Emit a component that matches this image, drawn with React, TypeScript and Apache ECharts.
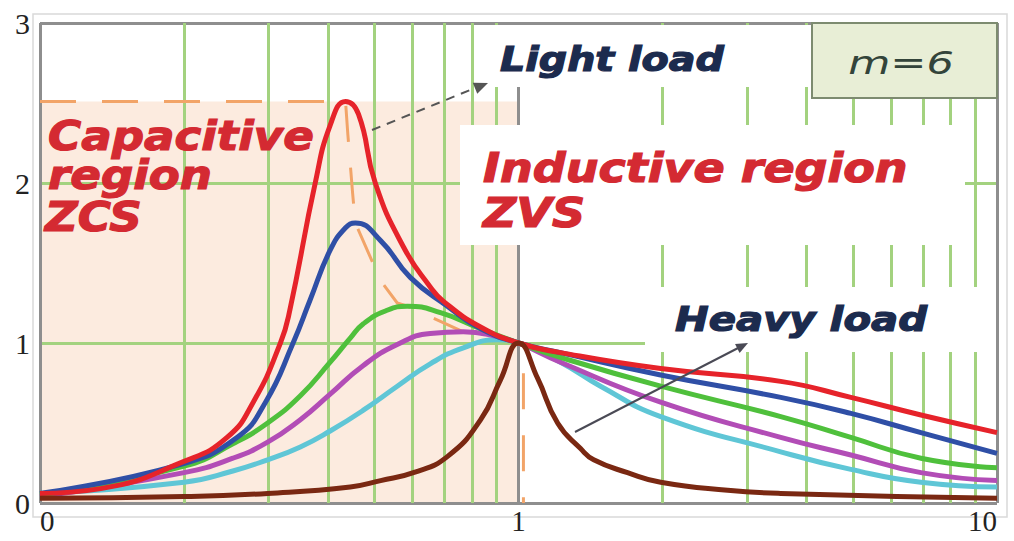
import React, { useEffect, useRef } from "react";
import * as echarts from "echarts";

// ---- data (normalised frequency fn, voltage gain M) ----
const xTickValues = [0.1, 1, 10];
const xTickLabels = ["0", "1", "10"];
const yTickLabels = ["0", "1", "2", "3"];
const xMinorGrid = [0.2, 0.3, 0.4, 0.5, 0.6, 0.7, 0.8, 0.9, 2, 3, 4, 5, 6, 7, 8, 9];

const redCurve = [[0.1,0.06],[0.134,0.09],[0.2,0.26],[0.246,0.41],[0.279,0.63],[0.318,1.0],[0.333,1.21],[0.376,2.0],[0.404,2.36],[0.435,2.51],[0.463,2.43],[0.502,2.0],[0.575,1.6],[0.654,1.35],[0.697,1.26],[0.833,1.1],[1,1.0],[1.224,0.94],[1.982,0.84],[3.532,0.76],[4.95,0.66],[6.935,0.55],[10,0.44]];
const blueCurve = [[0.1,0.06],[0.196,0.24],[0.258,0.41],[0.296,0.63],[0.338,1.0],[0.367,1.27],[0.404,1.58],[0.435,1.72],[0.456,1.75],[0.515,1.64],[0.594,1.41],[0.71,1.23],[0.833,1.09],[1,1.0],[1.224,0.94],[1.982,0.8],[3.532,0.66],[4.95,0.56],[6.935,0.44],[10,0.31]];
const greenCurve = [[0.1,0.05],[0.2,0.23],[0.253,0.37],[0.299,0.5],[0.35,0.67],[0.404,0.88],[0.445,1.03],[0.474,1.12],[0.527,1.2],[0.586,1.23],[0.687,1.19],[0.833,1.09],[1,1.0],[1.224,0.91],[1.982,0.73],[3.532,0.54],[4.95,0.41],[6.935,0.28],[10,0.22]];
const magentaCurve = [[0.1,0.04],[0.2,0.19],[0.253,0.28],[0.299,0.38],[0.35,0.52],[0.404,0.68],[0.474,0.86],[0.558,0.99],[0.654,1.06],[0.767,1.07],[0.904,1.04],[1,1.0],[1.224,0.88],[1.982,0.63],[3.532,0.41],[4.95,0.3],[6.935,0.19],[10,0.14]];
const cyanCurve = [[0.1,0.06],[0.2,0.13],[0.253,0.2],[0.299,0.27],[0.35,0.35],[0.404,0.45],[0.474,0.58],[0.558,0.73],[0.654,0.87],[0.767,0.97],[0.904,1.02],[1,1.0],[1.224,0.88],[1.484,0.73],[1.982,0.54],[3.532,0.32],[4.95,0.21],[6.935,0.13],[10,0.1]];
const brownCurve = [[0.1,0.03],[0.2,0.04],[0.299,0.06],[0.445,0.1],[0.515,0.14],[0.603,0.19],[0.71,0.29],[0.833,0.52],[0.917,0.77],[1,1.0],[1.096,0.78],[1.207,0.5],[1.348,0.34],[1.436,0.27],[1.69,0.19],[1.982,0.13],[2.736,0.08],[3.532,0.06],[10,0.03]];
const peakLocus = [[0.1,2.51],[0.435,2.51],[0.44,2.3],[0.45,1.94],[0.456,1.75],[0.515,1.39],[0.558,1.25],[0.586,1.23],[0.767,1.07],[0.904,1.02],[1.024,1.0],[1.024,0]];
const capacitiveRegion = [[0.1, 0], [1, 2.51]];

const curveSeries = [
  { name: "Q6", data: cyanCurve, color: "#5fc6d6" },
  { name: "Q5", data: magentaCurve, color: "#b24db6" },
  { name: "Q4", data: greenCurve, color: "#4fc03c" },
  { name: "Q3", data: blueCurve, color: "#2f4fa6" },
  { name: "Q2", data: redCurve, color: "#e6232a" },
  { name: "Q1", data: brownCurve, color: "#7a2812" },
];

function arrowHead(tip: number[], from: number[], len: number, half: number) {
  const dx = tip[0] - from[0], dy = tip[1] - from[1];
  const d = Math.hypot(dx, dy);
  const ux = dx / d, uy = dy / d;
  const bx = tip[0] - ux * len, by = tip[1] - uy * len;
  return [tip, [bx - uy * half, by + ux * half], [bx + uy * half, by - ux * half]];
}

export default function App() {
  const ref = useRef<HTMLDivElement>(null);
  useEffect(() => {
    if (!ref.current) return;
    const chart = echarts.init(ref.current, null, { renderer: "svg" });
    const red = "#d42a32";
    const navy = "#1c2b4e";
    const textEl = (text: string, x: number, y: number, size: number, fill: string, sx: number) => ({
      type: "text", x, y, scaleX: sx, z: 20,
      style: {
        text, fill, stroke: fill, lineWidth: 1.2, font: `italic bold ${size}px "DejaVu Sans"`,
        textAlign: "left", textVerticalAlign: "middle", align: "left", verticalAlign: "middle",
      },
    });
    const lightFrom = [372, 130], lightTip = [488, 83];
    const heavyFrom = [575, 432], heavyTip = [748, 343];
    chart.setOption({
      animation: false,
      backgroundColor: "#ffffff",
      grid: { left: 40, right: 17, top: 23, bottom: 38, containLabel: false },
      xAxis: {
        type: "log", logBase: 10, min: 0.1, max: 10,
        axisLine: { show: false }, axisTick: { show: false },
        axisLabel: {
          fontFamily: "Liberation Serif", fontSize: 29, lineHeight: 24, color: "#222", margin: 6,
          alignMinLabel: "left", alignMaxLabel: "right",
          formatter: (v: number) => {
            let best = 0;
            xTickValues.forEach((t, i) => { if (Math.abs(Math.log10(v) - Math.log10(t)) < Math.abs(Math.log10(v) - Math.log10(xTickValues[best]))) best = i; });
            return xTickLabels[best];
          },
        },
        splitLine: { show: true, lineStyle: { color: "#8e8e8e", width: 3 } },
      },
      yAxis: {
        type: "value", min: 0, max: 3, interval: 1,
        axisLine: { show: false }, axisTick: { show: false },
        axisLabel: {
          fontFamily: "Liberation Serif", fontSize: 30, color: "#222", margin: 10,
          formatter: (v: number) => yTickLabels[Math.round(v)],
        },
        splitLine: { show: true, lineStyle: { color: ["#8e8e8e", "#a3d27f", "#a3d27f", "#8e8e8e"], width: 3 } },
      },
      series: [
        {
          type: "line", name: "locus", data: peakLocus, showSymbol: false, symbol: "none", z: 1,
          lineStyle: { color: "#f2a468", width: 3, type: [36, 26] }, silent: true,
          markArea: {
            silent: true, z: -1,
            itemStyle: { color: "#fcebdf" },
            data: [[{ coord: capacitiveRegion[0] }, { coord: capacitiveRegion[1] }]],
          },
          markLine: {
            silent: true, z: 0, symbol: ["none", "none"], label: { show: false },
            lineStyle: { color: "#a3d27f", width: 3, type: "solid" },
            emphasis: { disabled: true },
            data: xMinorGrid.map((v) => ({ xAxis: v })),
          },
        },
        ...curveSeries.map((s) => ({
          type: "line", name: s.name, data: s.data, smooth: 0.5, showSymbol: false, symbol: "none",
          lineStyle: { color: s.color, width: 5 }, z: 3,
        })),
      ],
      graphic: [
        { type: "rect", z: 0, shape: { x: 33, y: 14, width: 974, height: 503 }, style: { fill: "none", stroke: "#d9d9d9", lineWidth: 1.5 } },
        { type: "rect", z: 1, shape: { x: 480, y: 25, width: 331, height: 62 }, style: { fill: "#ffffff" } },
        { type: "rect", z: 1, shape: { x: 460, y: 125, width: 505, height: 120 }, style: { fill: "#ffffff" } },
        { type: "rect", z: 1, shape: { x: 645, y: 287, width: 351, height: 65 }, style: { fill: "#ffffff" } },
        { type: "rect", z: 10, shape: { x: 812, y: 23, width: 185, height: 75 }, style: { fill: "#e8eed6", stroke: "#7d8b70", lineWidth: 2 } },
        {
          type: "text", x: 901, y: 63, z: 20, scaleX: 1.35,
          style: { text: "m=6", fill: "#33443a", font: 'italic 32px "DejaVu Sans"', textAlign: "center", textVerticalAlign: "middle", align: "center", verticalAlign: "middle" },
        },
        textEl("Capacitive", 48, 136, 40, red, 1.13),
        textEl("region", 48, 175, 40, red, 1.13),
        textEl("ZCS", 45, 217, 40, red, 1.13),
        textEl("Inductive region", 483, 168, 40, red, 1.15),
        textEl("ZVS", 483, 213, 40, red, 1.15),
        textEl("Light load", 500, 60, 33, navy, 1.2),
        textEl("Heavy load", 675, 320, 33, navy, 1.22),
        { type: "line", z: 15, shape: { x1: lightFrom[0], y1: lightFrom[1], x2: lightTip[0] - 8, y2: lightTip[1] + 3 }, style: { stroke: "#555", lineWidth: 2, lineDash: [9, 7] } },
        { type: "polygon", z: 15, shape: { points: arrowHead(lightTip, lightFrom, 14, 6) }, style: { fill: "#555" } },
        { type: "line", z: 15, shape: { x1: heavyFrom[0], y1: heavyFrom[1], x2: heavyTip[0] - 6, y2: heavyTip[1] + 3 }, style: { stroke: "#4a4a55", lineWidth: 2 } },
        { type: "polygon", z: 15, shape: { points: arrowHead(heavyTip, heavyFrom, 12, 5) }, style: { fill: "#4a4a55" } },
      ],
    });
    return () => chart.dispose();
  }, []);
  return <div ref={ref} style={{ position: "fixed", left: 0, top: 0, width: 1014, height: 541 }} />;
}
